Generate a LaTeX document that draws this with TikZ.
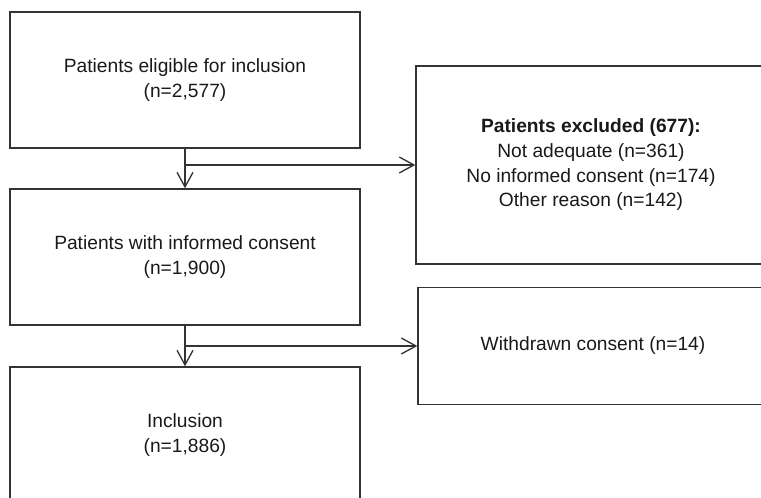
\documentclass[tikz,border=0pt]{standalone}
\usepackage{fontspec}
\setmainfont{Liberation Sans}
\usetikzlibrary{arrows.meta}
\begin{document}
\begin{tikzpicture}[
                            x=0.75pt, y=0.75pt,
                            node distance=132.75pt,
                            >={Straight Barb[length=11pt,width=12pt]},
                            block/.style={rectangle, draw=black!80, line width=1pt, text=black!90, align=center,
                                minimum width=262.5pt, minimum height=102pt, font=\fontsize{14.4}{18.5}\selectfont},
                            link/.style={draw=black!80, line width=1pt}
                        ]
                        \useasboundingbox (-185,80) rectangle (576,-418);
                        \clip (-185,80) rectangle (576,-418);
                        % Blocks
                        \node [block] (elig) {Patients eligible for inclusion\\(n=2,577)};
                        \node [block,below of=elig] (consent) {Patients with informed consent\\(n=1,900)};
                        \node [block,below of=consent,node distance=133.5pt] (incl) {Inclusion\\(n=1,886)};
                        \node [coordinate,below of=elig,node distance=63.75pt] (split1) {};
                        \node [coordinate,below of=consent,node distance=66.75pt] (split2) {};
                        \node [block,minimum height=148.5pt,right of=split1,node distance=304.5pt] (excl) {\textbf{Patients excluded (677):}\\Not adequate (n=361)\\No informed consent (n=174)\\Other reason (n=142)};
                        \node [block,minimum height=87.75pt,right of=split2,node distance=306pt] (withdr) {Withdrawn consent (n=14)};

                        % Connections
                        \draw [link,->] (elig) -- (consent);
                        \draw [link,->] (split1) -- (excl);
                        \draw [link,->] (consent) -- (incl);
                        \draw [link,->] (split2) -- (withdr);
                    \end{tikzpicture}
\end{document}
